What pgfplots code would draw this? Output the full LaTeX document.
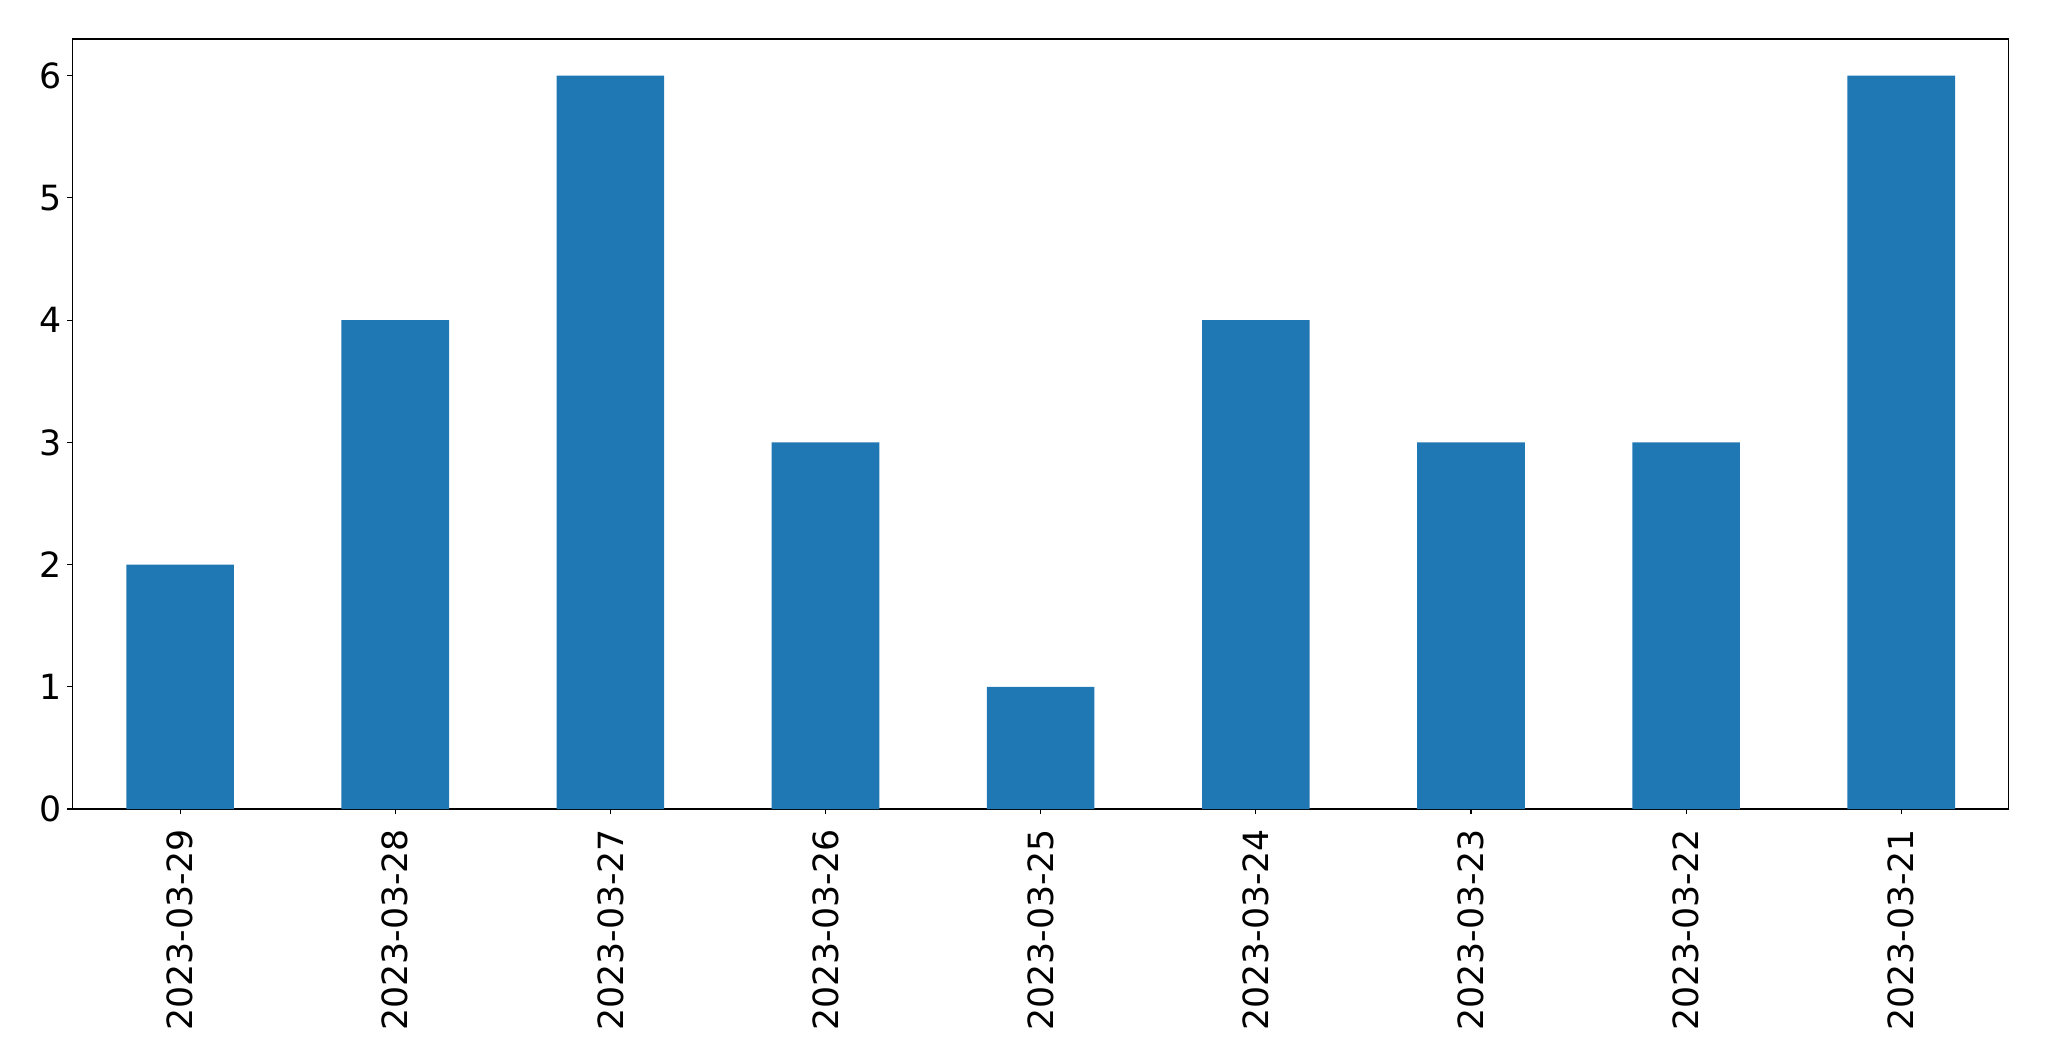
\documentclass[border=0pt]{standalone}
\usepackage{pgfplots}
\pgfplotsset{compat=1.18}
\usepackage{fontspec}
\setmainfont{DejaVu Sans}
\definecolor{mplblue}{HTML}{1F77B4}
\begin{document}
\fontsize{25}{30}\selectfont
\begin{tikzpicture}
\path[use as bounding box] (-52.2pt,-181.4pt) rectangle (1423.1pt,582.5pt);
\begin{axis}[
  at={(0,0)}, anchor=south west,
  scale only axis,
  width=1394.3pt, height=554.4pt,
  xmin=-0.5, xmax=8.5, ymin=0, ymax=6.3,
  xtick={0,1,2,3,4,5,6,7,8},
  xticklabels={2023-03-29,2023-03-28,2023-03-27,2023-03-26,2023-03-25,2023-03-24,2023-03-23,2023-03-22,2023-03-21},
  ytick={0,1,2,3,4,5,6},
  tick align=outside, tickwidth=3.6pt,
  xtick pos=bottom, ytick pos=left,
  axis line style={line width=0.8pt},
  major tick style={line width=0.8pt, black},
  every tick label/.append style={font=\fontsize{25}{30}\selectfont},
  xticklabel style={rotate=90, anchor=east, inner sep=0pt, outer sep=0pt, xshift=-10.8pt},
  yticklabel style={inner sep=0pt, outer sep=0pt, xshift=-4pt},
  /pgf/number format/assume math mode=true,
]
\addplot[ybar, bar width=0.5, fill=mplblue, draw=none, bar shift=0pt] coordinates {
(0,2) (1,4) (2,6) (3,3) (4,1) (5,4) (6,3) (7,3) (8,6)
};
\end{axis}
\end{tikzpicture}
\end{document}
